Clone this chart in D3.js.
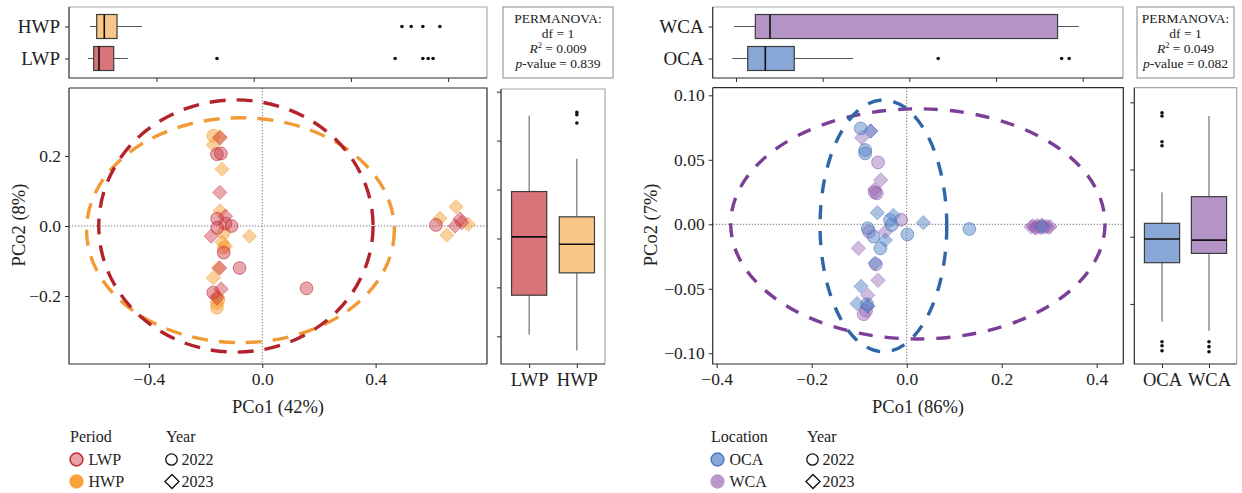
<!DOCTYPE html>
<html>
<head>
<meta charset="utf-8">
<script src="https://cdn.jsdelivr.net/npm/d3@7"></script>
<style>
  body { margin: 0; background: #fff; }
  svg { display: block; font-family: "Liberation Serif", "Times New Roman", serif; }
</style>
</head>
<body>
<svg id="chart" width="1242" height="493"></svg>
<script>
// ---------- Period comparison (left) ----------
const periodGroups = ["LWP", "HWP"];
// PCoA scores: [PCo1, PCo2, year]
const lwpScores = [
  [-0.160, 0.205, 2022], [-0.146, 0.207, 2022], [-0.159, 0.021, 2022], [-0.130, 0.007, 2022],
  [-0.108, 0.000, 2022], [-0.159, -0.005, 2022], [-0.136, -0.076, 2022], [-0.080, -0.120, 2022],
  [-0.173, -0.190, 2022], [0.156, -0.178, 2022], [0.613, 0.003, 2022],
  [-0.149, 0.252, 2023], [-0.150, 0.096, 2023], [-0.130, 0.028, 2023], [-0.180, -0.029, 2023],
  [-0.150, -0.120, 2023], [-0.145, -0.180, 2023], [-0.160, -0.205, 2023], [0.680, 0.000, 2023],
  [0.698, 0.020, 2023], [0.704, 0.010, 2023]
];
const hwpScores = [
  [-0.173, 0.258, 2022], [-0.136, -0.019, 2022], [-0.136, -0.062, 2022], [-0.160, -0.220, 2022],
  [-0.160, -0.233, 2022], [-0.155, -0.210, 2022],
  [-0.173, 0.232, 2023], [-0.150, 0.255, 2023], [-0.142, 0.162, 2023], [-0.149, 0.043, 2023],
  [-0.045, -0.029, 2023], [-0.142, -0.046, 2023], [-0.130, -0.057, 2023], [-0.155, -0.120, 2023],
  [-0.173, -0.148, 2023], [-0.160, -0.200, 2023], [0.684, 0.055, 2023], [0.627, 0.022, 2023],
  [0.651, -0.026, 2023], [0.727, 0.005, 2023]
];
// 95% ellipses: centre and radii in PCoA units
const periodEllipses = [
  { group: "HWP", cx: -0.077, cy: -0.012, rx: 0.543, ry: 0.321 },
  { group: "LWP", cx: -0.093, cy: 0.000, rx: 0.484, ry: 0.360 }
];
// Distance-to-centroid boxplots (horizontal, above)
const periodTopBoxes = [
  { group: "HWP", lo: 0.063, q1: 0.077, med: 0.0926, q3: 0.1188, hi: 0.170, out: [0.705, 0.724, 0.748, 0.783] },
  { group: "LWP", lo: 0.059, q1: 0.0708, med: 0.0817, q3: 0.112, hi: 0.141, out: [0.3245, 0.691, 0.748, 0.759, 0.769] }
];
// PCo2 boxplots (vertical, right)
const periodSideBoxes = [
  { group: "LWP", lo: -0.1965, q1: -0.116, med: 0.0033, q3: 0.0959, hi: 0.251, out: [] },
  { group: "HWP", lo: -0.229, q1: -0.0703, med: -0.0117, q3: 0.0442, hi: 0.1628, out: [0.258, 0.253, 0.236] }
];
const periodMainXTicks = [-0.4, 0.0, 0.4];
const periodMainYTicks = [-0.2, 0.0, 0.2];
const periodTopTicks = [0.2, 0.4, 0.6, 0.8];
const periodSideTicks = [-0.2, -0.1, 0.0, 0.1, 0.2, 0.3];
const periodStats = ["1", "0.009", "0.839"];
const periodAxisTitles = ["PCo1 (42%)", "PCo2 (8%)"];

// ---------- Location comparison (right) ----------
const locationGroups = ["OCA", "WCA"];
const ocaScores = [
  [-0.0968, 0.0744, 2022], [-0.0874, 0.0576, 2022], [-0.0874, 0.0550, 2022], [-0.0351, 0.0033, 2022],
  [-0.0316, -0.0005, 2022], [-0.0821, -0.0031, 2022], [-0.0695, -0.0096, 2022], [-0.0554, -0.0186, 2022],
  [0.0014, -0.0078, 2022], [0.1319, -0.0036, 2022], [-0.0835, -0.0620, 2022],
  [-0.0758, 0.0723, 2023], [-0.0618, 0.0090, 2023], [-0.0281, 0.0069, 2023], [-0.0449, -0.0122, 2023],
  [0.0350, 0.0013, 2023], [-0.0961, -0.0481, 2023], [-0.1045, -0.0615, 2023], [-0.0821, -0.0635, 2023],
  [-0.0667, -0.0302, 2023], [0.2850, -0.0020, 2023]
];
const wcaScores = [
  [-0.0604, 0.0480, 2022], [-0.0632, 0.0240, 2022], [-0.0119, 0.0035, 2022], [-0.0793, -0.0057, 2022],
  [-0.0650, -0.0310, 2022], [-0.0856, -0.0671, 2022], [-0.0905, -0.0697, 2022], [-0.0674, 0.0250, 2022],
  [-0.0947, 0.0671, 2023], [-0.0758, 0.0723, 2023], [-0.0547, 0.0343, 2023], [-0.0674, 0.0271, 2023],
  [-0.0449, -0.0057, 2023], [-0.1017, -0.0186, 2023], [-0.0604, -0.0434, 2023], [-0.0821, -0.0550, 2023],
  [-0.0821, -0.0635, 2023], [0.2620, -0.0020, 2023], [0.2660, -0.0012, 2023], [0.2700, -0.0024, 2023],
  [0.2750, -0.0010, 2023], [0.2780, -0.0018, 2023], [0.2820, -0.0026, 2023], [0.2860, -0.0014, 2023],
  [0.2900, -0.0022, 2023], [0.2940, -0.0016, 2023], [0.2980, -0.0024, 2023], [0.3020, -0.0018, 2023],
  [0.2720, -0.0030, 2023], [0.2840, -0.0008, 2023]
];
const locationEllipses = [
  { group: "WCA", cx: 0.0235, cy: 0.0003, rx: 0.394, ry: 0.0892 },
  { group: "OCA", cx: -0.0490, cy: -0.0012, rx: 0.1334, ry: 0.0976 }
];
const locationTopBoxes = [
  { group: "WCA", lo: 0.098, q1: 0.1223, med: 0.1392, q3: 0.471, hi: 0.4956, out: [] },
  { group: "OCA", lo: 0.0957, q1: 0.1135, med: 0.1338, q3: 0.1672, hi: 0.2353, out: [0.3333, 0.4757, 0.4844] }
];
const locationSideBoxes = [
  { group: "OCA", lo: -0.0632, q1: -0.0193, med: -0.0017, q3: 0.00997, hi: 0.033,
    out: [0.0923, 0.0898, 0.0707, 0.0677, -0.0781, -0.0811, -0.0848] },
  { group: "WCA", lo: -0.070, q1: -0.0124, med: -0.0025, q3: 0.0298, hi: 0.0898,
    out: [-0.0781, -0.0818, -0.0856] }
];
const locationMainXTicks = [-0.4, -0.2, 0.0, 0.2, 0.4];
const locationMainYTicks = [-0.10, -0.05, 0.00, 0.05, 0.10];
const locationTopTicks = [0.1, 0.2, 0.3, 0.4, 0.5];
const locationSideTicks = [-0.05, 0.0, 0.05, 0.1];
const locationStats = ["1", "0.049", "0.082"];
const locationAxisTitles = ["PCo1 (86%)", "PCo2 (7%)"];

// ---------- drawing ----------
const svg = d3.select("#chart");
const INK = "#2b2b2b";
const FRAME = "#a8a8a8";
const SERIF = '"Liberation Serif", "Times New Roman", serif';

function styleAxis(sel, fontSize) {
  sel.attr("font-family", SERIF);
  sel.select(".domain").remove();
  sel.selectAll(".tick line").attr("stroke", INK).attr("stroke-width", 1);
  sel.selectAll(".tick text").attr("fill", "#222").attr("font-size", fontSize)
    .attr("font-family", SERIF);
}

function panelFrame(g, p, allDark) {
  // top + right edges
  g.append("path")
    .attr("d", `M${p.x0},${p.y0}H${p.x1}V${p.y1}`)
    .attr("fill", "none").attr("stroke", allDark ? INK : FRAME).attr("stroke-width", 1.2);
  // left + bottom axis lines
  g.append("path")
    .attr("d", `M${p.x0},${p.y0}V${p.y1}H${p.x1}`)
    .attr("fill", "none").attr("stroke", INK).attr("stroke-width", 1.2);
}

function drawBox(g, b, pos, val, half, horizontal, fill) {
  const line = (a1, v1, a2, v2) => horizontal
    ? g.append("line").attr("x1", val(v1)).attr("x2", val(v2)).attr("y1", a1).attr("y2", a2)
    : g.append("line").attr("y1", val(v1)).attr("y2", val(v2)).attr("x1", a1).attr("x2", a2);
  const c = pos(b.group);
  line(c, b.lo, c, b.q1).attr("stroke", "#555").attr("stroke-width", 1);
  line(c, b.q3, c, b.hi).attr("stroke", "#555").attr("stroke-width", 1);
  if (horizontal) {
    g.append("rect").attr("x", val(b.q1)).attr("width", val(b.q3) - val(b.q1))
      .attr("y", c - half).attr("height", 2 * half)
      .attr("fill", fill).attr("stroke", "#3c3c3c").attr("stroke-width", 1.2);
  } else {
    g.append("rect").attr("y", val(b.q3)).attr("height", val(b.q1) - val(b.q3))
      .attr("x", c - half).attr("width", 2 * half)
      .attr("fill", fill).attr("stroke", "#3c3c3c").attr("stroke-width", 1.2);
  }
  line(c - half, b.med, c + half, b.med).attr("stroke", "#111").attr("stroke-width", 1.6);
  b.out.forEach(o => {
    g.append("circle").attr("r", 1.8).attr("fill", "#111")
      .attr(horizontal ? "cx" : "cy", val(o)).attr(horizontal ? "cy" : "cx", c);
  });
}

const diamond = d3.symbol().type(d3.symbolSquare).size(2 * 7.2 * 7.2);

function drawHalf(cfg) {
  const g = svg.append("g");
  const M = cfg.main, T = cfg.top, S = cfg.side, P = cfg.perm;

  // ---- main ordination panel ----
  const x = d3.scaleLinear().domain(cfg.xDomain).range([M.x0, M.x1]);
  const y = d3.scaleLinear().domain(cfg.yDomain).range([M.y1, M.y0]);
  const clipId = "clip-" + cfg.id;
  g.append("clipPath").attr("id", clipId).append("rect")
    .attr("x", M.x0).attr("y", M.y0).attr("width", M.x1 - M.x0).attr("height", M.y1 - M.y0);
  const plot = g.append("g").attr("clip-path", `url(#${clipId})`);

  plot.append("line").attr("x1", x(0)).attr("x2", x(0)).attr("y1", M.y0).attr("y2", M.y1)
    .attr("stroke", "#777").attr("stroke-width", 1).attr("stroke-dasharray", "1.3,1.7");
  plot.append("line").attr("y1", y(0)).attr("y2", y(0)).attr("x1", M.x0).attr("x2", M.x1)
    .attr("stroke", "#777").attr("stroke-width", 1).attr("stroke-dasharray", "1.3,1.7");

  cfg.ellipses.forEach(e => {
    plot.append("ellipse")
      .attr("cx", x(e.cx)).attr("cy", y(e.cy))
      .attr("rx", x(e.cx + e.rx) - x(e.cx)).attr("ry", y(e.cy) - y(e.cy + e.ry))
      .attr("fill", "none").attr("stroke", cfg.colors[e.group].ellipse)
      .attr("stroke-width", 3.4).attr("stroke-dasharray", cfg.dash);
  });

  cfg.scores.forEach(([grp, pts]) => {
    const col = cfg.colors[grp];
    pts.forEach(([px, py, yr]) => {
      if (yr === 2022) {
        plot.append("circle").attr("cx", x(px)).attr("cy", y(py)).attr("r", 6.4)
          .attr("fill", col.point).attr("fill-opacity", col.alpha)
          .attr("stroke", col.edge).attr("stroke-opacity", 0.55).attr("stroke-width", 1);
      } else {
        plot.append("path").attr("d", diamond)
          .attr("transform", `translate(${x(px)},${y(py)}) rotate(45)`)
          .attr("fill", col.point).attr("fill-opacity", col.alpha)
          .attr("stroke", col.edge).attr("stroke-opacity", 0.45).attr("stroke-width", 0.8);
      }
    });
  });

  panelFrame(g, M, true);
  g.append("g").attr("transform", `translate(0,${M.y1})`)
    .call(d3.axisBottom(x).tickValues(cfg.xTicks).tickSize(4).tickPadding(5).tickFormat(d3.format(".1f")))
    .call(s => styleAxis(s, 17.5));
  g.append("g").attr("transform", `translate(${M.x0},0)`)
    .call(d3.axisLeft(y).tickValues(cfg.yTicks).tickSize(4).tickPadding(4).tickFormat(d3.format(cfg.yFormat)))
    .call(s => styleAxis(s, 17.5));

  g.append("text").attr("x", (M.x0 + M.x1) / 2).attr("y", 413).attr("text-anchor", "middle")
    .attr("font-size", 18.5).attr("fill", "#222").text(cfg.titles[0]);
  g.append("text").attr("transform", `translate(${cfg.yTitleX},${(M.y0 + M.y1) / 2 - 1}) rotate(-90)`)
    .attr("text-anchor", "middle").attr("font-size", 18.5).attr("fill", "#222").text(cfg.titles[1]);

  // ---- top horizontal boxplots ----
  const tx = d3.scaleLinear().domain(cfg.topDomain).range([T.x0, T.x1]);
  const ty = d3.scalePoint().domain(cfg.topBoxes.map(d => d.group)).range([T.y0, T.y1]).padding(0.61);
  panelFrame(g, T, false);
  cfg.topBoxes.forEach(b => drawBox(g, b, ty, tx, 12, true, cfg.colors[b.group].box));
  g.append("g").attr("transform", `translate(0,${T.y1})`)
    .call(d3.axisBottom(tx).tickValues(cfg.topTicks).tickSize(4).tickFormat(""))
    .call(s => styleAxis(s, 10));
  g.append("g").attr("transform", `translate(${T.x0},0)`)
    .call(d3.axisLeft(ty).tickSize(4).tickPadding(5))
    .call(s => styleAxis(s, 19));

  // ---- side vertical boxplots ----
  const sx = d3.scalePoint().domain(cfg.sideBoxes.map(d => d.group)).range([S.x0, S.x1]).padding(0.59);
  const sy = d3.scaleLinear().domain(cfg.sideDomain).range([S.y1, S.y0]);
  panelFrame(g, S, false);
  cfg.sideBoxes.forEach(b => drawBox(g, b, sx, sy, 17.6, false, cfg.colors[b.group].box));
  g.append("g").attr("transform", `translate(0,${S.y1})`)
    .call(d3.axisBottom(sx).tickSize(4).tickPadding(5))
    .call(s => styleAxis(s, 18.5));
  g.append("g").attr("transform", `translate(${S.x0},0)`)
    .call(d3.axisLeft(sy).tickValues(cfg.sideTicks).tickSize(4).tickFormat(""))
    .call(s => styleAxis(s, 10));

  // ---- PERMANOVA summary ----
  g.append("rect").attr("x", P.x0).attr("y", P.y0).attr("width", P.x1 - P.x0).attr("height", P.y1 - P.y0)
    .attr("fill", "#fff").attr("stroke", "#8a8a8a").attr("stroke-width", 1);
  const cxp = (P.x0 + P.x1) / 2;
  const tline = (yy) => g.append("text").attr("x", cxp).attr("y", yy).attr("text-anchor", "middle")
    .attr("font-size", 13.5).attr("fill", "#222");
  tline(P.y0 + 15.5).text("PERMANOVA:");
  tline(P.y0 + 30.5).text("df = " + cfg.stats[0]);
  const r = tline(P.y0 + 45.5);
  r.append("tspan").attr("font-style", "italic").text("R");
  r.append("tspan").attr("font-size", 8.5).attr("dy", -4.5).text("2");
  r.append("tspan").attr("dy", 4.5).text(" = " + cfg.stats[1]);
  const pv = tline(P.y0 + 60.5);
  pv.append("tspan").attr("font-style", "italic").text("p");
  pv.append("tspan").text("-value = " + cfg.stats[2]);

  // ---- legend ----
  const L = cfg.legend;
  const lg = g.append("g").attr("font-size", 16).attr("fill", "#222");
  lg.append("text").attr("x", L.x).attr("y", 442).text(L.title);
  cfg.groups.forEach((grp, i) => {
    const cy = 459.5 + i * 22;
    lg.append("circle").attr("cx", L.x + 6.5).attr("cy", cy).attr("r", 6.4)
      .attr("fill", cfg.colors[grp].key).attr("stroke", cfg.colors[grp].keyEdge).attr("stroke-width", 1.5);
    lg.append("text").attr("x", L.x + 18.5).attr("y", cy + 5.5).text(grp);
  });
  lg.append("text").attr("x", L.yearX).attr("y", 442).text("Year");
  lg.append("circle").attr("cx", L.yearX + 5.5).attr("cy", 459.5).attr("r", 5.7)
    .attr("fill", "none").attr("stroke", "#111").attr("stroke-width", 1.3);
  lg.append("text").attr("x", L.yearX + 15.5).attr("y", 465).text("2022");
  lg.append("path").attr("d", d3.symbol().type(d3.symbolSquare).size(2 * 7 * 7))
    .attr("transform", `translate(${L.yearX + 6},481.5) rotate(45)`)
    .attr("fill", "none").attr("stroke", "#111").attr("stroke-width", 1.3);
  lg.append("text").attr("x", L.yearX + 15.5).attr("y", 487).text("2023");
}

drawHalf({
  id: "period",
  main: { x0: 69, x1: 487, y0: 88, y1: 364 },
  top: { x0: 69, x1: 487, y0: 7, y1: 78 },
  side: { x0: 501, x1: 605, y0: 89, y1: 364 },
  perm: { x0: 503, x1: 613, y0: 7, y1: 78 },
  xDomain: [-0.682, 0.793], yDomain: [-0.394, 0.394],
  topDomain: [0.02, 0.88], sideDomain: [-0.2566, 0.3055],
  xTicks: periodMainXTicks, yTicks: periodMainYTicks, yFormat: ".1f",
  topTicks: periodTopTicks, sideTicks: periodSideTicks,
  ellipses: periodEllipses, dash: "16,11",
  scores: [["HWP", hwpScores], ["LWP", lwpScores]],
  topBoxes: periodTopBoxes, sideBoxes: periodSideBoxes,
  groups: periodGroups, stats: periodStats, titles: periodAxisTitles, yTitleX: 25,
  legend: { x: 70, yearX: 166, title: "Period" },
  colors: {
    LWP: { point: "#cf3a44", edge: "#b4202a", alpha: 0.45, ellipse: "#b3232b", box: "#d9747a", key: "#e6a2a7", keyEdge: "#c1272f" },
    HWP: { point: "#f7a038", edge: "#f39a30", alpha: 0.5, ellipse: "#f29a36", box: "#f9c788", key: "#f8a23b", keyEdge: "#f8a23b" }
  }
});

drawHalf({
  id: "location",
  main: { x0: 712.7, x1: 1123.3, y0: 87.7, y1: 364 },
  top: { x0: 712.7, x1: 1123, y0: 7, y1: 78 },
  side: { x0: 1134.3, x1: 1236.7, y0: 87.7, y1: 364 },
  perm: { x0: 1137, x1: 1234, y0: 7, y1: 78 },
  xDomain: [-0.4084, 0.456], yDomain: [-0.1083, 0.1059],
  topDomain: [0.0731, 0.5465], sideDomain: [-0.0947, 0.1109],
  xTicks: locationMainXTicks, yTicks: locationMainYTicks, yFormat: ".2f",
  topTicks: locationTopTicks, sideTicks: locationSideTicks,
  ellipses: locationEllipses, dash: "14,12",
  scores: [["WCA", wcaScores], ["OCA", ocaScores]],
  topBoxes: locationTopBoxes, sideBoxes: locationSideBoxes,
  groups: locationGroups, stats: locationStats, titles: locationAxisTitles, yTitleX: 657,
  legend: { x: 711, yearX: 807, title: "Location" },
  colors: {
    OCA: { point: "#5a86c8", edge: "#3d6db5", alpha: 0.5, ellipse: "#2f66a8", box: "#88a7d7", key: "#89a8da", keyEdge: "#4d79bf" },
    WCA: { point: "#9a68b6", edge: "#8552a6", alpha: 0.45, ellipse: "#7c3f97", box: "#b494c7", key: "#b999cd", keyEdge: "#b999cd" }
  }
});
</script>
</body>
</html>
